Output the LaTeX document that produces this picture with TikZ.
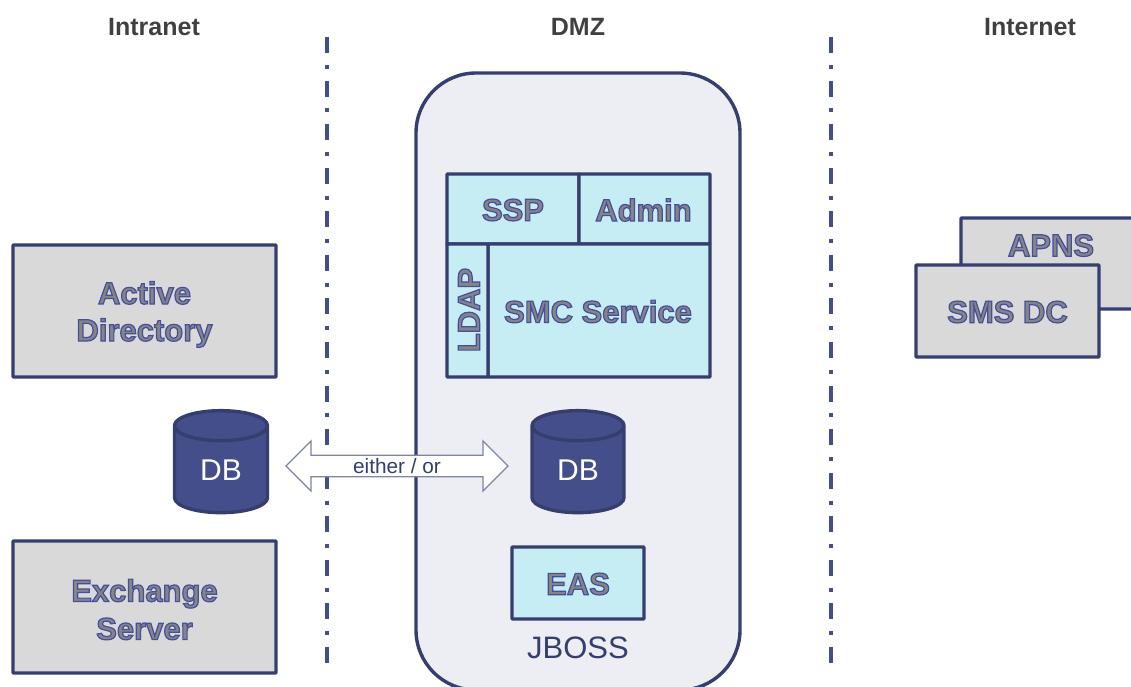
\documentclass[tikz,border=0pt]{standalone}
\usepackage{fontspec}
\setmainfont{Liberation Sans}
\usetikzlibrary{shapes.geometric,shapes.arrows}
\definecolor{navy}{HTML}{353E6F}
\definecolor{dbfill}{HTML}{444E8A}
\definecolor{panelbg}{HTML}{EDEEF3}
\definecolor{graybox}{HTML}{D9D9D9}
\definecolor{cyanbox}{HTML}{C6ECF4}
\definecolor{headtxt}{HTML}{404040}
\definecolor{arrowline}{HTML}{7E84A3}
\definecolor{outfill}{HTML}{858585}
\newcommand{\outl}[2][1pt]{\raisebox{-#1}[\height][\depth]{\color{outfill}\special{pdf:code 2 Tr 1.2 w 0.27 0.31 0.62 RG}#2\special{pdf:code 0 Tr}}}
\tikzset{
  x=1pt,y=-1pt,
  every node/.style={inner sep=0pt,outer sep=0pt},
  boxbase/.style={draw=navy,line width=3.4pt,rectangle,rounded corners=0.8pt,align=center,
    font=\fontsize{31}{38}\selectfont\bfseries},
  grayb/.style={boxbase,fill=graybox},
  cyanb/.style={boxbase,fill=cyanbox},
  head/.style={font=\fontsize{25}{30}\selectfont\bfseries,text=headtxt},
  divider/.style={dbfill,line width=3.6pt,dash pattern=on 16pt off 11.8pt on 4pt off 11.77pt},
  dbase/.style={cylinder,shape border rotate=90,draw=navy,line width=3.4pt,fill=dbfill,
    aspect=0.72,text=white,font=\fontsize{30}{36}\selectfont},
}
\begin{document}
\begin{tikzpicture}
\useasboundingbox (0,0) rectangle (1131,686);
\clip (0,0) rectangle (1131,686);
\node[head] (intranet) at (154,27) {Intranet};
\node[head] (dmz) at (578,27) {DMZ};
\node[head] (internet) at (1030,27) {Internet};
\node[draw=navy,line width=3.4pt,fill=panelbg,rectangle,rounded corners=60pt,minimum width=324pt,minimum height=617pt] (dmzbox) at (578,381.5) {};
\coordinate (d1a) at (327,37); \coordinate (d1b) at (327,664);
\coordinate (d2a) at (831,37); \coordinate (d2b) at (831,664);
\draw[divider] (d1a) -- (d1b);
\draw[divider] (d2a) -- (d2b);
\node[grayb,minimum width=263pt,minimum height=132pt] (ad) at (144.5,311) {\outl[4pt]{Active}\\\outl[3pt]{Directory}};
\node[grayb,minimum width=263pt,minimum height=132pt] (ex) at (144.5,607) {\outl[2.5pt]{Exchange}\\\outl[2.5pt]{Server}};
\node[dbase,minimum width=93pt,minimum height=102pt] (db1) at (221,470) {DB};
\node[dbase,minimum width=92pt,minimum height=102pt] (db2) at (578,470) {DB};
\node[double arrow,draw=arrowline,line width=1.3pt,fill=white,minimum height=222pt,minimum width=50pt,double arrow head extend=11pt,text=navy,font=\fontsize{20.8}{24}\selectfont] (arrow) at (397,466) {either / or};
\node[cyanb,minimum width=132pt,minimum height=70pt] (ssp) at (513,209) {\outl{SSP}};
\node[cyanb,minimum width=131pt,minimum height=70pt] (admin) at (644.5,209) {\hspace*{-2pt}\outl{Admin}};
\node[cyanb,minimum width=222pt,minimum height=133pt] (smc) at (599,310.5) {\hspace*{-2pt}\outl{SMC Service}};
\node[cyanb,minimum width=41pt,minimum height=133pt] (ldap) at (467.5,310.5) {};
\node[font=\fontsize{31}{38}\selectfont\bfseries,rotate=90] (ldaptxt) at (469,310) {\outl[0pt]{LDAP}};
\node[cyanb,minimum width=132pt,minimum height=72pt] (eas) at (578,583) {\outl{EAS}};
\node[text=navy,font=\fontsize{31}{36}\selectfont] (jboss) at (578,648) {JBOSS};
\node[grayb,minimum width=180pt,minimum height=91pt] (apns) at (1051,263.5) {\outl[-18pt]{APNS}};
\node[grayb,minimum width=183pt,minimum height=92pt] (sms) at (1007.5,311) {\outl{SMS DC}};
\end{tikzpicture}
\end{document}
